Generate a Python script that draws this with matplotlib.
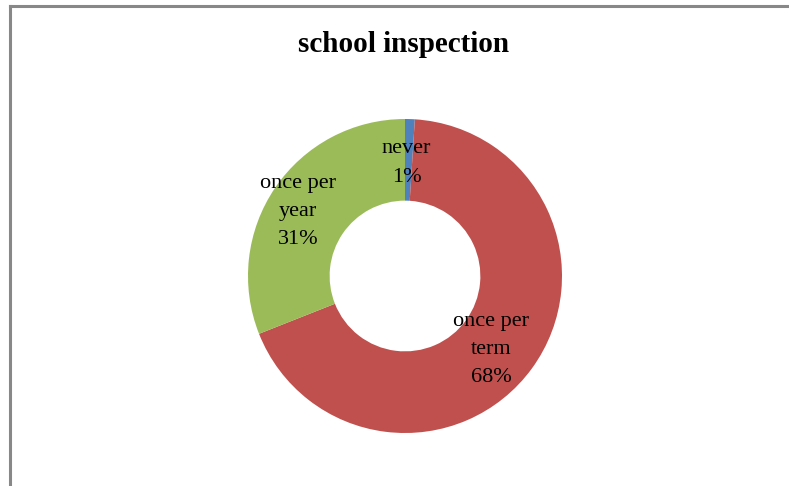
import matplotlib
matplotlib.use("Agg")
import matplotlib.pyplot as plt
from matplotlib.lines import Line2D

# data
labels = ["never", "once per\nterm", "once per\nyear"]
values = [1, 68, 31]
colors = ["#4F81BD", "#C0504D", "#9BBB59"]

W, H = 789, 486
fig = plt.figure(figsize=(W / 100, H / 100), dpi=100)
fig.patch.set_facecolor("white")

# frame lines (top and left of the chart border)
fig.add_artist(Line2D([10 / W, 1], [1 - 6 / H, 1 - 6 / H], color="#888888", lw=2.2))
fig.add_artist(Line2D([10 / W, 10 / W], [0, 1 - 6 / H], color="#888888", lw=2.2))

# donut axes, centred at (405, 276) px with radius 157 px
cx, cy, r = 405, 276, 157
ax = fig.add_axes([(cx - r) / W, (H - cy - r) / H, 2 * r / W, 2 * r / H])
wedges, _ = ax.pie(values, colors=colors, startangle=90, counterclock=False,
                   radius=1, wedgeprops=dict(width=0.52, linewidth=0))
ax.set_xlim(-1, 1)
ax.set_ylim(-1, 1)
ax.set_aspect("equal")
ax.axis("off")

# data labels
txt = [f"{l}\n{v}%" for l, v in zip(labels, values)]
pos = [(0.01, 0.72), (0.55, -0.47), (-0.68, 0.41)]
for t, (x, y) in zip(txt, pos):
    ax.text(x, y, t, ha="center", va="center", fontsize=16,
            family="Liberation Serif", linespacing=1.65)

fig.text(404 / W, 1 - 45 / H, "school inspection", ha="center", va="center",
         fontsize=21, fontweight="bold", family="Liberation Serif")

plt.savefig("out.png", dpi=100)
